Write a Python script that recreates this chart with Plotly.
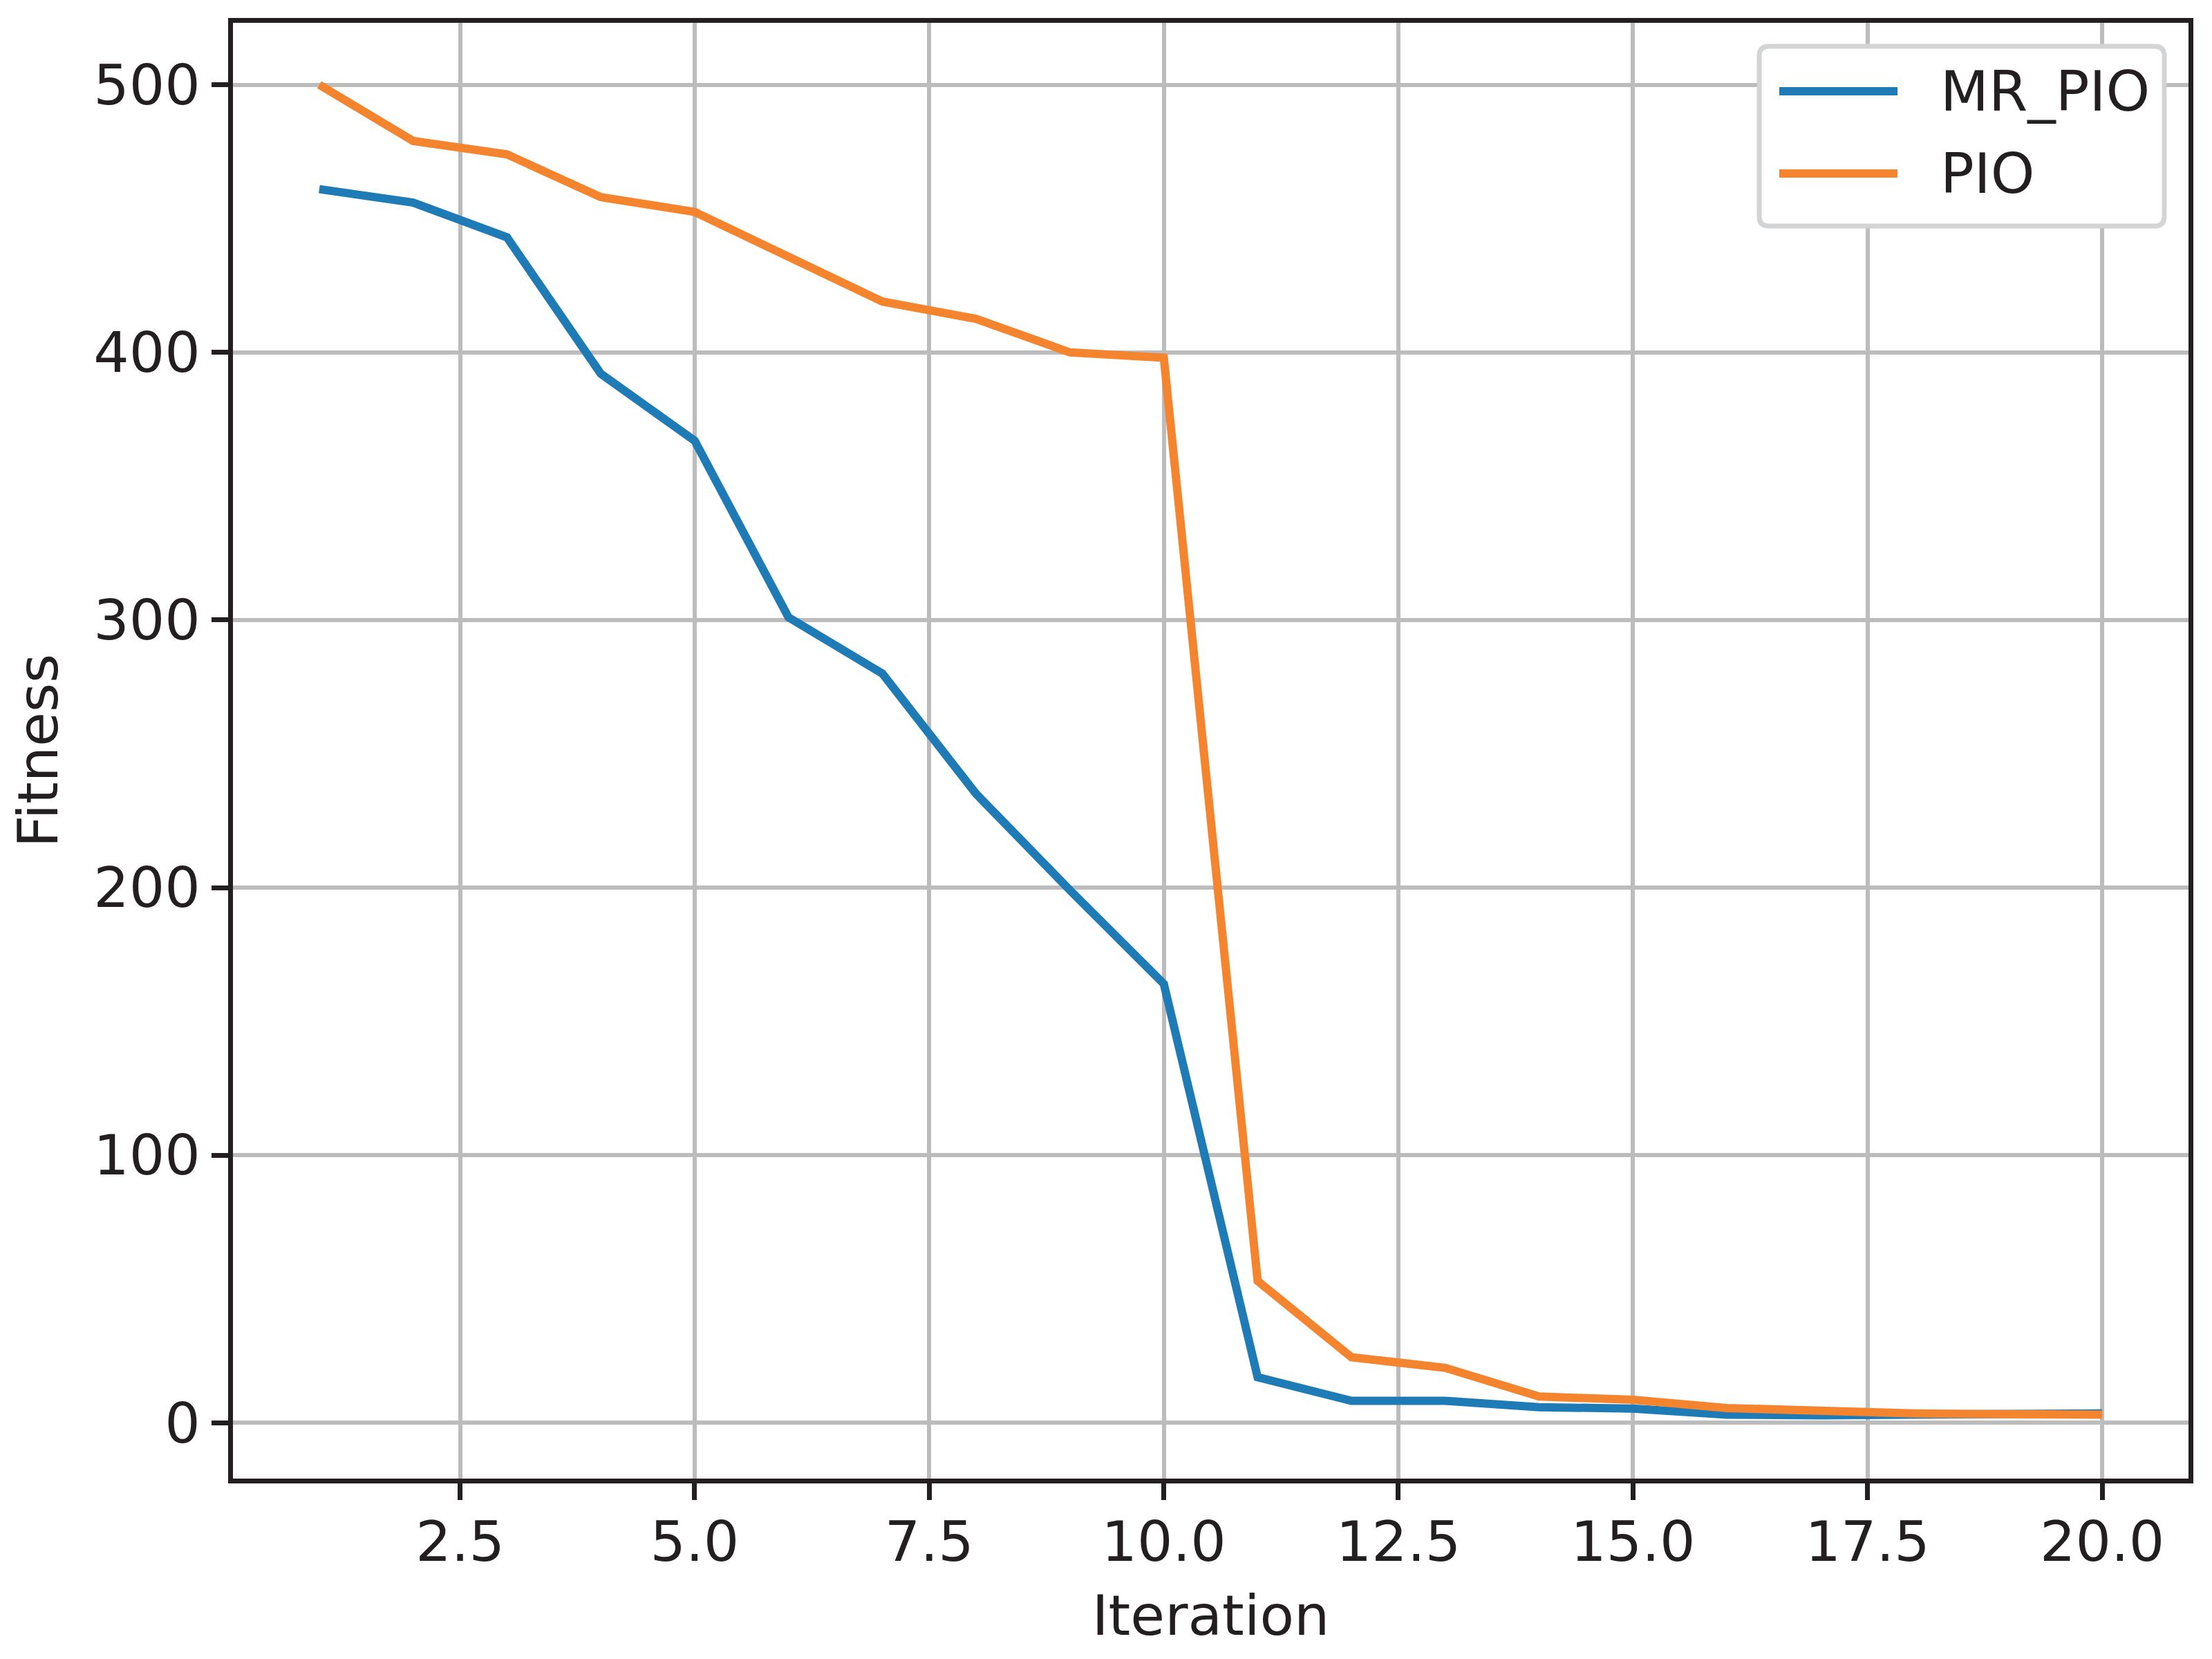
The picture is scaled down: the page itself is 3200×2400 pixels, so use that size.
import plotly.graph_objects as go

# ---------------- data ----------------
iterations = list(range(1, 21))
mr_pio = [461, 456, 443, 392, 367, 301, 280, 235, 199, 164,
          17, 8.2, 8.2, 5.8, 5.3, 3.0, 2.8, 3.1, 3.3, 3.5]
pio = [500, 479, 474, 458, 452.5, 436, 419, 412.5, 400, 398,
       53, 24.5, 20.5, 9.8, 8.6, 5.5, 4.3, 3.5, 3.2, 3.0]

series_names = ["MR_PIO", "PIO"]
series_colors = ["#1f7bb6", "#f5842f"]
y_ticks = [0, 100, 200, 300, 400, 500]

# ---------------- geometry (page pixels) ----------------
# the html body has an 8px margin, so the figure is shrunk by it
OFF = 8
W, H = 3200 - 2 * OFF, 2400 - 2 * OFF
# frame line centres as seen in the reference
FL, FR, FT, FB = 333 - OFF, 3170 - OFF, 29 - OFF, 2143 - OFF
X_RANGE = [0.05, 20.95]
Y_RANGE = [-21.9, 524.2]
# plotly draws the frame outside the plot area, so pull the area in a bit
D = 4
L, R, T, B = FL + D, FR - D, FT + D, FB - D
xppu = (FR - FL) / (X_RANGE[1] - X_RANGE[0])
yppu = (FB - FT) / (Y_RANGE[1] - Y_RANGE[0])
x_range = [X_RANGE[0] + D / xppu, X_RANGE[1] - D / xppu]
y_range = [Y_RANGE[0] + D / yppu, Y_RANGE[1] - D / yppu]

FONT = "DejaVu Sans"
INK = "#231f20"
FS = 81


def px_x(p):
    return (p - OFF - L) / (R - L)


def px_y(p):
    return (B - (p - OFF)) / (B - T)


fig = go.Figure()

for name, ys, col in zip(series_names, [mr_pio, pio], series_colors):
    fig.add_trace(
        go.Scatter(
            x=iterations,
            y=ys,
            mode="lines",
            name=name,
            line=dict(color=col, width=12),
            showlegend=False,
        )
    )

fig.update_layout(
    width=W,
    height=H,
    margin=dict(l=L, r=W - R, t=T, b=H - B, pad=0),
    paper_bgcolor="white",
    plot_bgcolor="white",
    font=dict(family=FONT, size=FS, color=INK),
    showlegend=False,
)

axis_common = dict(
    showline=True,
    linecolor=INK,
    linewidth=7,
    mirror=True,
    showgrid=True,
    gridcolor="#bcbcbc",
    gridwidth=6,
    zeroline=False,
    ticks="outside",
    ticklen=24,
    tickwidth=7,
    tickcolor=INK,
    tickfont=dict(family=FONT, size=FS, color=INK),
)

fig.update_xaxes(
    range=x_range,
    tick0=0,
    dtick=2.5,
    tickformat=".1f",
    ticklabelstandoff=-9,
    title=dict(text="Iteration", standoff=35, font=dict(family=FONT, size=FS, color=INK)),
    **axis_common,
)
fig.update_yaxes(
    range=y_range,
    tickvals=y_ticks,
    title=dict(text="Fitness", standoff=45, font=dict(family=FONT, size=FS, color=INK)),
    **axis_common,
)

# ---------------- legend (drawn by hand, matplotlib style) ----------------
lx0, lx1, ly0, ly1 = 2545, 3131, 67, 327
rad = 14
x0, x1 = px_x(lx0), px_x(lx1)
y0, y1 = px_y(ly1), px_y(ly0)
rx = rad / (R - L)
ry = rad / (B - T)
path = (
    f"M {x0 + rx},{y1} L {x1 - rx},{y1} Q {x1},{y1} {x1},{y1 - ry} "
    f"L {x1},{y0 + ry} Q {x1},{y0} {x1 - rx},{y0} "
    f"L {x0 + rx},{y0} Q {x0},{y0} {x0},{y0 + ry} "
    f"L {x0},{y1 - ry} Q {x0},{y1} {x0 + rx},{y1} Z"
)
fig.add_shape(
    type="path",
    path=path,
    xref="paper",
    yref="paper",
    fillcolor="white",
    line=dict(color="#d3d4d6", width=7),
    layer="above",
)

rows = [132, 251]
for name, col, ry_px in zip(series_names, series_colors, rows):
    fig.add_shape(
        type="line",
        xref="paper",
        yref="paper",
        x0=px_x(2574),
        x1=px_x(2745),
        y0=px_y(ry_px),
        y1=px_y(ry_px),
        line=dict(color=col, width=12),
        layer="above",
    )
    fig.add_annotation(
        text=name,
        xref="paper",
        yref="paper",
        x=px_x(2805),
        y=px_y(ry_px),
        xanchor="left",
        yanchor="middle",
        showarrow=False,
        font=dict(family=FONT, size=FS, color=INK),
    )

fig.write_html("out.html")
